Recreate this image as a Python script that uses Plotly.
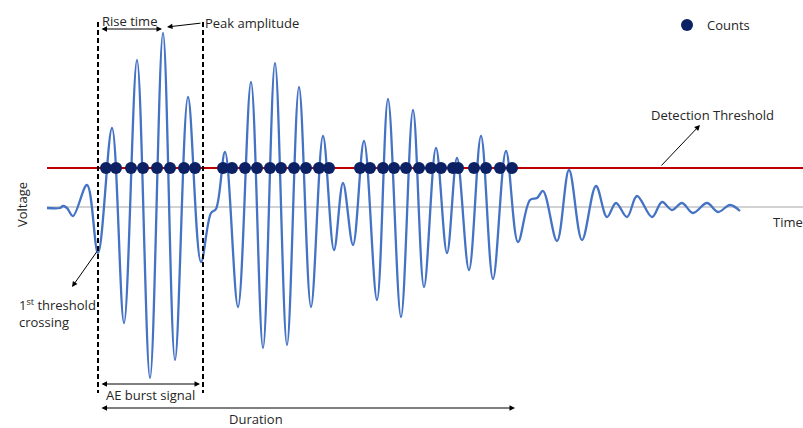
import plotly.graph_objects as go

# ---- data (time in arbitrary units, voltage in arbitrary units; baseline = 0) ----
time = [47, 60, 63, 67, 73, 87, 98, 112, 124, 137, 150, 163, 175, 188, 201, 211, 216,
        225, 238, 251, 263, 275, 287, 299, 311, 323, 334, 343, 353, 364, 377, 388, 401,
        413, 424, 436, 447, 457, 469, 481, 493, 506, 518, 530, 537, 543, 557, 569, 582,
        596, 607, 616, 627, 637, 652, 662, 672, 682, 693, 707, 718, 730, 740]
voltage = [-1, -1, 1, -1, -9, 22, -46, 79, -116, 147, -171, 174, -153, 110, -55, -6, -2,
           55, -100, 125, -141, 144, -138, 120, -100, 71, -43, 24, -38, 66, -93, 108, -110,
           97, -80, 59, -46, 49, -63, 71, -72, 56, -35, 7, 9, 16, -34, 37, -33,
           21, -10, 4, -10, 11, -10, 5, -3, 4, -6, 4, -5, 2, -4]

threshold = 39
counts_time = [106, 116, 131, 143, 157, 170, 184, 195,
               223, 232, 245, 257, 270, 281, 294, 306, 319, 329,
               360, 370, 383, 394, 406, 419, 431, 441, 453, 458, 474, 486, 500, 512]

burst_start, burst_end = 98, 203
rise_end = 162
duration_end = 515

X_RANGE = [0, 803]
Y_RANGE = [-221, 207]

TXT = "#262626"
FONT = "Open Sans"
FS = 13

fig = go.Figure()

fig.add_trace(go.Scatter(
    x=time, y=voltage, mode="lines",
    line=dict(color="#4472C4", width=2.3, shape="spline", smoothing=1),
    showlegend=False, hoverinfo="skip"))

fig.add_trace(go.Scatter(
    x=counts_time, y=[threshold] * len(counts_time), mode="markers",
    marker=dict(color="#0B2163", size=12),
    name="Counts", showlegend=True))

# baseline and detection threshold
fig.add_shape(type="line", x0=time[0], x1=X_RANGE[1], y0=0, y1=0,
              line=dict(color="#A6A6A6", width=1), layer="below")
fig.add_shape(type="line", x0=time[0], x1=X_RANGE[1], y0=threshold, y1=threshold,
              line=dict(color="#C00000", width=2), layer="below")

# dashed burst boundaries
for xb in (burst_start, burst_end):
    fig.add_shape(type="line", x0=xb, x1=xb, y0=185, y1=-186,
                  line=dict(color="black", width=2, dash="5px,3px"))

def arrow(x, y, ax, ay, both=False):
    fig.add_annotation(x=x, y=y, ax=ax, ay=ay, xref="x", yref="y", axref="x", ayref="y",
                       text="", showarrow=True, arrowhead=2, arrowsize=1.1, arrowwidth=1,
                       arrowcolor="black",
                       arrowside="end+start" if both else "end",
                       startarrowhead=2, startarrowsize=1.1)

def label(x, y, text, xanchor="center", angle=0, align="center", yanchor="middle"):
    fig.add_annotation(x=x, y=y, xref="x", yref="y", text=text, showarrow=False,
                       xanchor=xanchor, yanchor=yanchor, textangle=angle, align=align,
                       font=dict(family=FONT, size=FS, color=TXT))

# Rise time
label(129, 186, "Rise time")
arrow(rise_end, 178, burst_start + 2, 178, both=True)
# Peak amplitude
label(203, 184, "Peak amplitude", xanchor="left")
arrow(167, 180, 202, 184)
# Detection threshold
label(649, 92, "Detection Threshold", xanchor="left")
arrow(700, 82, 660, threshold + 1)
# 1st threshold crossing
label(17, -106, "1<sup>st</sup> threshold<br>crossing", xanchor="left", align="left")
arrow(72, -80, 98, -43)
# AE burst signal
arrow(burst_end - 3, -177, burst_start + 2, -177, both=True)
label(150, -188, "AE burst signal")
# Duration
arrow(duration_end, -201, burst_start + 2, -201, both=True)
label(256, -212, "Duration")
# axis labels
label(22, 2, "Voltage", angle=-90)
label(771, -15, "Time", xanchor="left")

fig.update_layout(
    width=803, height=428,
    margin=dict(l=0, r=0, t=0, b=0),
    paper_bgcolor="white", plot_bgcolor="white",
    xaxis=dict(range=X_RANGE, visible=False, fixedrange=True),
    yaxis=dict(range=Y_RANGE, visible=False, fixedrange=True),
    legend=dict(x=667 / 803, y=1 - 10 / 428, xanchor="left", yanchor="top",
                bgcolor="rgba(0,0,0,0)", font=dict(family=FONT, size=FS, color=TXT),
                itemsizing="constant"),
    font=dict(family=FONT, size=FS, color=TXT),
)

fig.write_html(
    "out.html",
    config={"displayModeBar": False},
    post_script="document.body.style.margin='0';document.body.style.overflow='hidden';",
)
